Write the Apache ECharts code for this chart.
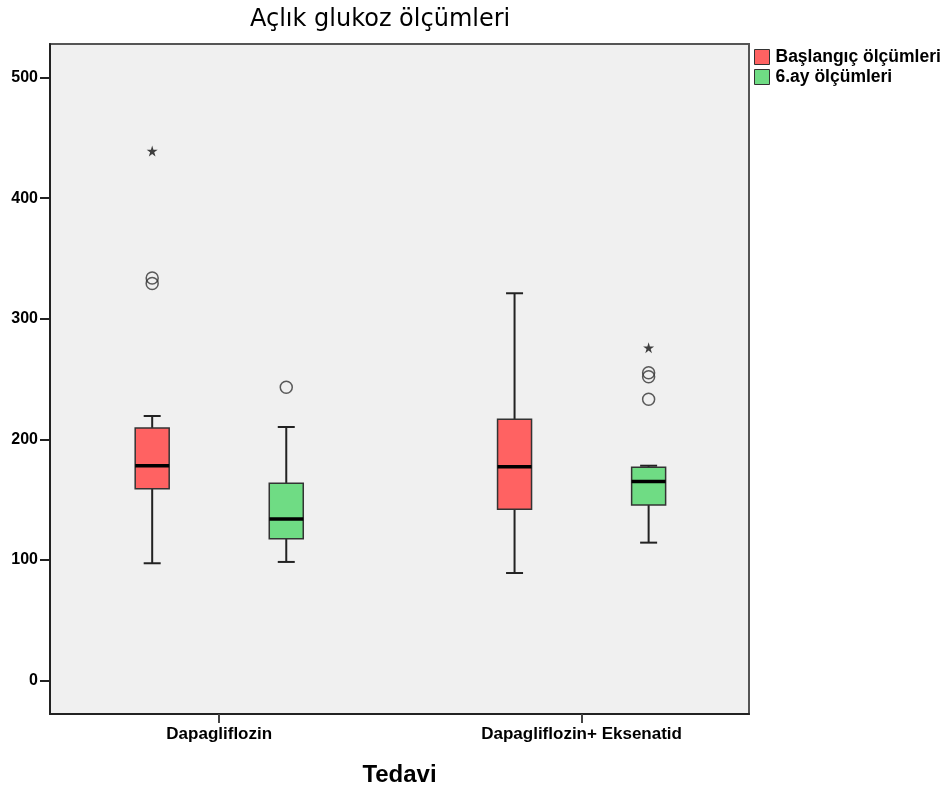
<!DOCTYPE html>
<html>
<head>
<meta charset="utf-8">
<script src="https://cdn.jsdelivr.net/npm/echarts@6/dist/echarts.min.js"></script>
<style>html,body{margin:0;padding:0;background:#fff;}#main{width:948px;height:787px;}</style>
</head>
<body>
<div id="main"></div>
<script>
// ---- data ----
var categories = ['Dapagliflozin', 'Dapagliflozin+ Eksenatid'];
var seriesNames = ['Başlangıç ölçümleri', '6.ay ölçümleri'];
// [min, Q1, median, Q3, max]
var baslangic = [[97.2, 159.0, 178.1, 209.4, 219.3], [89.1, 142.0, 177.3, 216.6, 321.1]];
var altiAy = [[98.3, 117.6, 133.9, 163.5, 210.2], [114.3, 145.5, 164.9, 176.8, 178.1]];
// outliers: [categoryIndex, value]
var baslangicOutliers = [[0, 333.7], [0, 329.2]];
var altiAyOutliers = [[0, 243.1], [1, 255.2], [1, 251.9], [1, 233.2]];
// extremes (stars): [categoryIndex, value]
var baslangicExtremes = [[0, 439.1]];
var altiAyExtremes = [[1, 276.0]];
var yTicks = [0, 100, 200, 300, 400, 500];

// ---- layout helpers ----
var groupOffset = 0.185;
var colors = ['#ff6262', '#6fdc84'];
function pos(ci, si) { return ci + 1 + (si === 0 ? -groupOffset : groupOffset); }

function boxData(arr, si) {
  return arr.map(function (d, ci) { return [pos(ci, si)].concat(d); });
}
function ptData(arr, si) {
  return arr.map(function (d) { return [pos(d[0], si), d[1]]; });
}

var boxHalf = 17, capHalf = 8.5;
function renderBox(params, api) {
  var x = api.value(0);
  var pMin = api.coord([x, api.value(1)]);
  var pQ1 = api.coord([x, api.value(2)]);
  var pMed = api.coord([x, api.value(3)]);
  var pQ3 = api.coord([x, api.value(4)]);
  var pMax = api.coord([x, api.value(5)]);
  var cx = pMin[0];
  var lineStyle = { stroke: '#222', lineWidth: 2 };
  return {
    type: 'group',
    children: [
      { type: 'line', shape: { x1: cx, y1: pMax[1], x2: cx, y2: pQ3[1] }, style: lineStyle },
      { type: 'line', shape: { x1: cx, y1: pQ1[1], x2: cx, y2: pMin[1] }, style: lineStyle },
      { type: 'line', shape: { x1: cx - capHalf, y1: pMax[1], x2: cx + capHalf, y2: pMax[1] }, style: lineStyle },
      { type: 'line', shape: { x1: cx - capHalf, y1: pMin[1], x2: cx + capHalf, y2: pMin[1] }, style: lineStyle },
      { type: 'rect', shape: { x: cx - boxHalf, y: pQ3[1], width: boxHalf * 2, height: pQ1[1] - pQ3[1] },
        style: { fill: api.visual('color'), stroke: '#333', lineWidth: 1.5 } },
      { type: 'line', shape: { x1: cx - boxHalf, y1: pMed[1], x2: cx + boxHalf, y2: pMed[1] },
        style: { stroke: '#000', lineWidth: 3.5 } }
    ]
  };
}

var starPath = 'path://M50,0 L61,35 L98,35 L68,57 L79,91 L50,70 L21,91 L32,57 L2,35 L39,35 Z';
var font = 'Liberation Sans';

var chart = echarts.init(document.getElementById('main'));
chart.setOption({
  animation: false,
  backgroundColor: '#ffffff',
  title: {
    text: 'Açlık glukoz ölçümleri',
    left: 245, top: 3,
    textStyle: { fontFamily: 'DejaVu Sans', fontSize: 24, fontWeight: 'normal', color: '#000' }
  },
  legend: {
    orient: 'vertical',
    left: 749, top: 43,
    itemWidth: 15, itemHeight: 15, itemGap: 2,
    textStyle: { fontFamily: font, fontSize: 17.5, fontWeight: 'bold', color: '#000', padding: [0, 0, 0, 1] },
    data: [
      { name: seriesNames[0], icon: 'rect', itemStyle: { color: colors[0], borderColor: '#333', borderWidth: 1 } },
      { name: seriesNames[1], icon: 'rect', itemStyle: { color: colors[1], borderColor: '#333', borderWidth: 1 } }
    ]
  },
  grid: {
    left: 50, top: 44, right: 199, bottom: 73,
    outerBoundsMode: 'none', containLabel: false,
    show: true, backgroundColor: '#f0f0f0', borderColor: '#555', borderWidth: 2
  },
  xAxis: {
    type: 'value',
    min: 0.533, max: 2.462,
    splitLine: { show: false },
    axisLine: { show: true, onZero: false, lineStyle: { color: '#222', width: 2 } },
    axisTick: { show: true, customValues: [1, 2], length: 9, lineStyle: { color: '#444', width: 2 } },
    axisLabel: {
      customValues: [1, 2],
      formatter: function (v) { return categories[Math.round(v) - 1] || ''; },
      fontFamily: font, fontSize: 17, fontWeight: 'bold', color: '#000', margin: 12
    },
    name: 'Tedavi', nameLocation: 'middle', nameGap: 49,
    nameTextStyle: { fontFamily: font, fontSize: 24, fontWeight: 'bold', color: '#000' }
  },
  yAxis: {
    type: 'value',
    min: -27.8, max: 527.8,
    splitLine: { show: false },
    axisLine: { show: true, onZero: false, lineStyle: { color: '#222', width: 2 } },
    axisTick: { show: true, customValues: yTicks, length: 10, lineStyle: { color: '#222', width: 2 } },
    axisLabel: {
      customValues: yTicks,
      fontFamily: font, fontSize: 16, fontWeight: 'bold', color: '#000', margin: 12
    }
  },
  series: [
    { name: seriesNames[0], type: 'custom', renderItem: renderBox, itemStyle: { color: colors[0] },
      encode: { x: 0, y: [1, 2, 3, 4, 5] }, data: boxData(baslangic, 0), z: 2 },
    { name: seriesNames[1], type: 'custom', renderItem: renderBox, itemStyle: { color: colors[1] },
      encode: { x: 0, y: [1, 2, 3, 4, 5] }, data: boxData(altiAy, 1), z: 2 },
    { name: seriesNames[0] + ' outliers', type: 'scatter', symbol: 'circle', symbolSize: 12,
      itemStyle: { color: 'rgba(0,0,0,0)', borderColor: '#333', borderWidth: 1.5 },
      data: ptData(baslangicOutliers, 0), z: 3 },
    { name: seriesNames[1] + ' outliers', type: 'scatter', symbol: 'circle', symbolSize: 12,
      itemStyle: { color: 'rgba(0,0,0,0)', borderColor: '#333', borderWidth: 1.5 },
      data: ptData(altiAyOutliers, 1), z: 3 },
    { name: seriesNames[0] + ' extremes', type: 'scatter', symbol: starPath, symbolSize: 11,
      itemStyle: { color: '#111' }, data: ptData(baslangicExtremes, 0), z: 3 },
    { name: seriesNames[1] + ' extremes', type: 'scatter', symbol: starPath, symbolSize: 11,
      itemStyle: { color: '#111' }, data: ptData(altiAyExtremes, 1), z: 3 }
  ]
});
</script>
</body>
</html>
